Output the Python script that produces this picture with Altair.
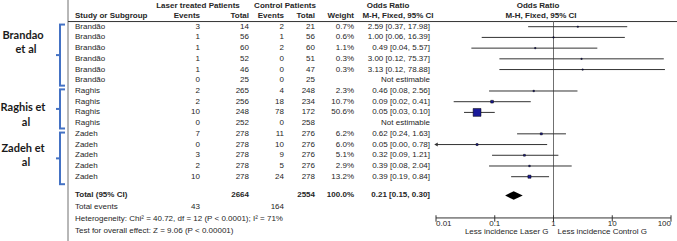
import altair as alt
import pandas as pd

# ---------------- data ----------------
studies = ["Brandão", "Brandão", "Brandão", "Brandão", "Brandão", "Brandão",
           "Raghis", "Raghis", "Raghis", "Raghis",
           "Zadeh", "Zadeh", "Zadeh", "Zadeh", "Zadeh"]
laser_events = [3, 1, 1, 1, 1, 0, 2, 2, 10, 0, 7, 0, 3, 2, 10]
laser_total = [14, 56, 60, 52, 46, 25, 265, 256, 248, 252, 278, 278, 278, 278, 278]
control_events = [2, 1, 2, 0, 0, 0, 4, 18, 78, 0, 11, 10, 9, 5, 24]
control_total = [21, 56, 60, 51, 47, 25, 248, 234, 172, 258, 276, 276, 276, 276, 278]
weights = [0.7, 0.6, 1.1, 0.3, 0.3, None, 2.3, 10.7, 50.6, None, 6.2, 6.0, 5.1, 2.9, 13.2]
odds = [2.59, 1.00, 0.49, 3.00, 3.13, None, 0.46, 0.09, 0.05, None, 0.62, 0.05, 0.32, 0.39, 0.39]
ci_low = [0.37, 0.06, 0.04, 0.12, 0.12, None, 0.08, 0.02, 0.03, None, 0.24, 0.00, 0.09, 0.08, 0.19]
ci_high = [17.98, 16.39, 5.57, 75.37, 78.88, None, 2.56, 0.41, 0.10, None, 1.63, 0.78, 1.21, 2.04, 0.84]

total_label = "Total (95% CI)"
total_laser = 2664
total_control = 2554
total_weight = 100.0
total_or, total_lo, total_hi = 0.21, 0.15, 0.30
events_label = "Total events"
events_laser_sum = 43
events_control_sum = 164
heterogeneity = "Heterogeneity: Chi² = 40.72, df = 12 (P < 0.0001); I² = 71%"
overall = "Test for overall effect: Z = 9.06 (P < 0.00001)"

tick_values = [0.01, 0.1, 1, 10, 100]
tick_labels = ["0.01", "0.1", "1", "10", "100"]
favours_left = "Less incidence Laser G"
favours_right = "Less incidence Control G"

group_names = [["Brandao", "et al"], ["Raghis et", "al"], ["Zadeh et", "al"]]
group_first = [1, 7, 11]
group_last = [6, 10, 15]

# ---------------- layout / style ----------------
FONT = "Liberation Sans"
LFONT = "Lato"
FS = 8
TXT = "#262626"
LINE = "#333333"
GREY = "#707070"
BLUE = "#4472C4"

Y_SCALE = alt.Scale(domain=[1, 15], range=[26.7, 176.7], nice=False, zero=False)
X_SCALE = alt.Scale(type="log", domain=[0.01, 100], range=[436, 671], nice=False)


def Y(f):
    return alt.Y(f"{f}:Q", scale=Y_SCALE, axis=None)


def X(f):
    return alt.X(f"{f}:Q", scale=X_SCALE, axis=None)


def col_text(data, field, x, align, bold=False, row="row"):
    return alt.Chart(data).mark_text(
        align=align, baseline="middle", font=FONT, fontSize=FS,
        fontWeight="bold" if bold else "normal", color=TXT
    ).encode(x=alt.value(x), y=Y(row), text=f"{field}:N")


def label(text, row, x, align, bold=False, font=FONT, fs=FS, color=TXT):
    d = pd.DataFrame({"t": [text], "r": [row]})
    return alt.Chart(d).mark_text(
        align=align, baseline="middle", font=font, fontSize=fs,
        fontWeight="bold" if bold else "normal", color=color
    ).encode(x=alt.value(x), y=Y("r"), text="t:N")


n = len(studies)
rows = list(range(1, n + 1))

tbl = pd.DataFrame({
    "row": rows,
    "study": studies,
    "le": [str(v) for v in laser_events],
    "lt": [str(v) for v in laser_total],
    "ce": [str(v) for v in control_events],
    "ct": [str(v) for v in control_total],
    "w": ["" if w is None else f"{w:.1f}%" for w in weights],
    "ortxt": ["Not estimable" if o is None else f"{o:.2f} [{l:.2f}, {h:.2f}]"
              for o, l, h in zip(odds, ci_low, ci_high)],
})

forest = pd.DataFrame([
    {"row": r, "orv": o, "lo": max(l, 0.01), "hi": h, "w": w, "arrow": l < 0.01}
    for r, o, l, h, w in zip(rows, odds, ci_low, ci_high, weights) if o is not None
])

layers = []

# frame lines
layers.append(alt.Chart(pd.DataFrame({"a": [0]})).mark_rule(color=GREY, strokeWidth=1).encode(
    x=alt.value(68), y=alt.value(0), y2=alt.value(241)))
layers.append(alt.Chart(pd.DataFrame({"r": [0.52]})).mark_rule(color=LINE, strokeWidth=1).encode(
    x=alt.value(68), x2=alt.value(677), y=Y("r")))

AXIS_ROW = 18.85
# line of no effect
layers.append(alt.Chart(pd.DataFrame({"x": [1], "r0": [0.52], "r1": [AXIS_ROW]})).mark_rule(
    color=GREY, strokeWidth=1).encode(x=X("x"), y=Y("r0"), y2="r1:Q"))

# confidence intervals
layers.append(alt.Chart(forest).mark_rule(color=LINE, strokeWidth=1).encode(
    x=X("lo"), x2="hi:Q", y=Y("row")))
layers.append(alt.Chart(forest[forest["arrow"]]).mark_point(
    shape="triangle-left", filled=True, size=16, color=LINE, opacity=1).encode(
    x=X("lo"), y=Y("row")))
# weighted squares
layers.append(alt.Chart(forest).mark_square(
    filled=True, color="#1a1a9a", stroke="black", strokeWidth=0.5, opacity=1).encode(
    x=X("orv"), y=Y("row"),
    size=alt.Size("w:Q", scale=alt.Scale(type="pow", exponent=1.5, domain=[0, 50.6],
                                         range=[1.5, 62]), legend=None)))

# summary diamond
TOTAL_ROW = 16.75
diamond = pd.DataFrame({
    "x": [total_lo, total_or, total_hi],
    "top": [TOTAL_ROW, TOTAL_ROW - 0.4, TOTAL_ROW],
    "bot": [TOTAL_ROW, TOTAL_ROW + 0.4, TOTAL_ROW],
})
layers.append(alt.Chart(diamond).mark_area(color="black", orient="vertical", opacity=1).encode(
    x=X("x"), y=Y("top"), y2="bot:Q"))

# axis
layers.append(alt.Chart(pd.DataFrame({"a": [tick_values[0]], "b": [tick_values[-1]], "r": [AXIS_ROW]}))
              .mark_rule(color=LINE, strokeWidth=1).encode(x=X("a"), x2="b:Q", y=Y("r")))
ticks = pd.DataFrame({"v": tick_values, "lab": tick_labels,
                      "r0": [AXIS_ROW - 0.25] * len(tick_values),
                      "r1": [AXIS_ROW + 0.35] * len(tick_values),
                      "rl": [AXIS_ROW + 0.6] * len(tick_values)})
layers.append(alt.Chart(ticks).mark_rule(color=LINE, strokeWidth=1).encode(
    x=X("v"), y=Y("r0"), y2="r1:Q"))
for sub, al in ((ticks.iloc[:1], "left"), (ticks.iloc[1:-1], "center"), (ticks.iloc[-1:], "right")):
    layers.append(alt.Chart(sub).mark_text(align=al, baseline="middle", font=FONT, fontSize=FS,
                                           color=TXT).encode(x=X("v"), y=Y("rl"), text="lab:N"))
fav = pd.DataFrame({"x": [1], "r": [20.2], "a": [favours_left], "b": [favours_right]})
layers.append(alt.Chart(fav).mark_text(align="right", baseline="middle", font=FONT, fontSize=FS,
                                       color=TXT, dx=-5).encode(x=X("x"), y=Y("r"), text="a:N"))
layers.append(alt.Chart(fav).mark_text(align="left", baseline="middle", font=FONT, fontSize=FS,
                                       color=TXT, dx=4).encode(x=X("x"), y=Y("r"), text="b:N"))

# table columns
layers += [
    col_text(tbl, "study", 75, "left"),
    col_text(tbl, "le", 200, "right"),
    col_text(tbl, "lt", 249, "right"),
    col_text(tbl, "ce", 284, "right"),
    col_text(tbl, "ct", 315, "right"),
    col_text(tbl, "w", 354, "right"),
    col_text(tbl, "ortxt", 430, "right"),
]

# headers
H1, H2 = -0.95, 0.0
layers += [
    label("Laser treated Patients", H1, 198, "center", True),
    label("Control Patients", H1, 285, "center", True),
    label("Odds Ratio", H1, 388, "center", True),
    label("Odds Ratio", H1, 538, "center", True),
    label("Study or Subgroup", H2, 75, "left", True),
    label("Events", H2, 200, "right", True),
    label("Total", H2, 249, "right", True),
    label("Events", H2, 284, "right", True),
    label("Total", H2, 315, "right", True),
    label("Weight", H2, 354, "right", True),
    label("M-H, Fixed, 95% CI", H2, 398, "center", True),
    label("M-H, Fixed, 95% CI", H2, 541, "center", True),
]

# footer
layers += [
    label(total_label, TOTAL_ROW, 75, "left", True),
    label(str(total_laser), TOTAL_ROW, 249, "right", True),
    label(str(total_control), TOTAL_ROW, 315, "right", True),
    label(f"{total_weight:.1f}%", TOTAL_ROW, 354, "right", True),
    label(f"{total_or:.2f} [{total_lo:.2f}, {total_hi:.2f}]", TOTAL_ROW, 430, "right", True),
    label(events_label, 17.87, 75, "left"),
    label(str(events_laser_sum), 17.87, 200, "right"),
    label(str(events_control_sum), 17.87, 284, "right"),
    label(heterogeneity, 18.99, 75, "left"),
    label(overall, 20.11, 75, "left"),
]

# study-group brackets and labels
label_rows = [(1.87, 3.2), (8.6, 9.95), (12.4, 13.75)]
bracket_span = [(0.8, 6.5), (6.85, 10.5), (10.88, 15.7)]
for names, (top, bot), lr in zip(group_names, bracket_span, label_rows):
    mid = (top + bot) / 2
    b = pd.DataFrame({"top": [top], "bot": [bot], "mid": [mid]})
    layers.append(alt.Chart(b).mark_rule(color=BLUE, strokeWidth=2).encode(
        x=alt.value(60), y=Y("top"), y2="bot:Q"))
    layers.append(alt.Chart(b).mark_rule(color=BLUE, strokeWidth=2).encode(
        x=alt.value(59), x2=alt.value(65), y=Y("top")))
    layers.append(alt.Chart(b).mark_rule(color=BLUE, strokeWidth=2).encode(
        x=alt.value(59), x2=alt.value(65), y=Y("bot")))
    layers.append(alt.Chart(b).mark_rule(color=BLUE, strokeWidth=2).encode(
        x=alt.value(56), x2=alt.value(61), y=Y("mid")))
    layers.append(label(names[0], lr[0], 23, "center", True, LFONT, 11, "#1a1a1a"))
    layers.append(label(names[1], lr[1], 26, "center", True, LFONT, 11, "#1a1a1a"))

chart = alt.layer(*layers).properties(
    width=677, height=241,
    autosize=alt.AutoSizeParams(type="none"),
    padding=0,
    background="white",
).configure_view(stroke=None)

chart.save("out.html", embed_options={"renderer": "svg", "actions": False})
